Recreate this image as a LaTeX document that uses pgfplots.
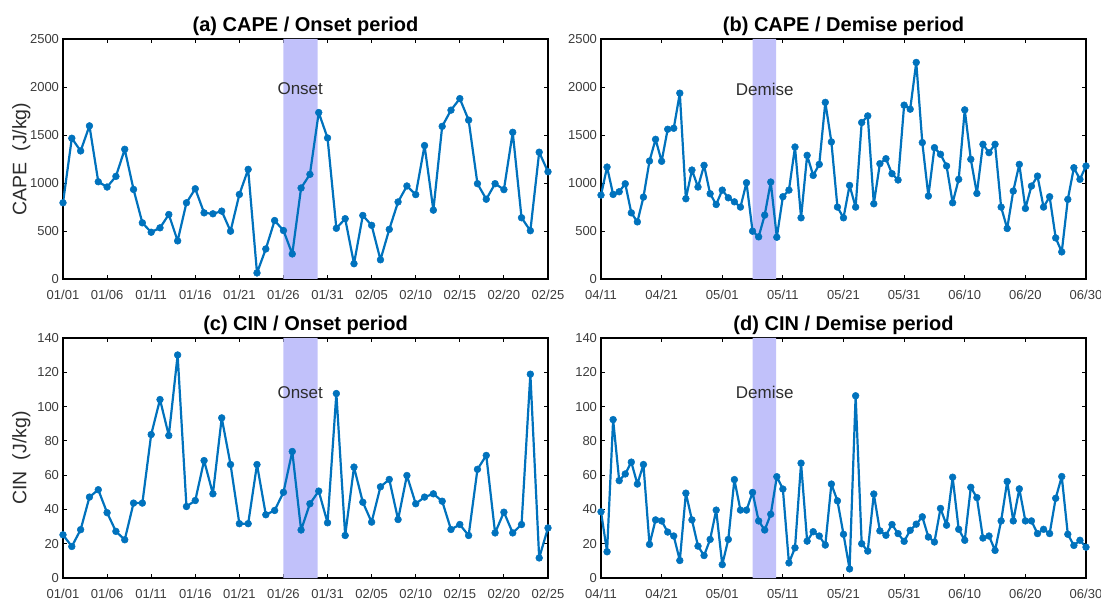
\documentclass[border=0pt]{standalone}
\usepackage{pgfplots}
\pgfplotsset{compat=1.18}
\usepackage{fontspec}
\setmainfont{Liberation Sans}
\definecolor{mblue}{RGB}{0,114,189}
\definecolor{band}{RGB}{193,193,250}
\definecolor{tickgray}{RGB}{60,60,60}
\definecolor{txtgray}{RGB}{45,45,45}
\pgfplotsset{
  panel/.style={
    scale only axis, width=485pt, height=240pt,
    xmin=0, ymin=0,
    axis line style={line width=1.1pt, black},
    tick style={line width=0.9pt, black},
    major tick length=4pt, tick align=inside,
    xtick pos=both, ytick pos=both,
    minor tick num=0,
    clip=true,
    /pgf/number format/1000 sep={},
    /pgf/number format/assume math mode=true,
    scaled ticks=false,
    tick label style={font=\fontsize{13}{15}\selectfont, text=tickgray},
    xticklabel style={yshift=-8pt},
    yticklabel style={xshift=-0.5pt},
    title style={at={(0.5,1)}, anchor=south, yshift=-3pt, inner sep=0pt,
      font=\bfseries\fontsize{20}{22}\selectfont, text=black},
    ylabel style={at={(axis description cs:-0.086,0.5)}, anchor=center,
      font=\fontsize{19.5}{21}\selectfont, text=txtgray},
  },
  dataline/.style={color=mblue, line width=2.2pt, line join=round, mark=*, mark size=3.4pt,
    mark options={fill=mblue, draw=mblue, line width=0.5pt}},
  bandfill/.style={fill=band, draw=none, forget plot},
}
\begin{document}
\begin{tikzpicture}
\path[use as bounding box] (0pt,0pt) rectangle (1101pt,600pt);

% (a)
\begin{axis}[panel, at={(63pt,321pt)}, anchor=south west,
  xmax=55, ymax=2500, ytick={0,500,...,2500},
  xtick={0,5,...,55},
  xticklabels={01/01,01/06,01/11,01/16,01/21,01/26,01/31,02/05,02/10,02/15,02/20,02/25},
  title={(a) CAPE / Onset period}, ylabel={CAPE\ \ (J/kg)}]
\addplot[bandfill] coordinates {(25,0) (28.88,0) (28.88,2500) (25,2500)} \closedcycle;
\addplot[dataline] coordinates {
(0,794)(1,1466)(2,1334)(3,1595)(4,1013)(5,958)(6,1069)(7,1351)(8,933)(9,585)
(10,487)(11,533)(12,672)(13,397)(14,794)(15,940)(16,689)(17,679)(18,707)(19,498)
(20,881)(21,1142)(22,63)(23,313)(24,609)(25,505)(26,261)(27,948)(28,1090)(29,1734)
(30,1469)(31,528)(32,628)(33,159)(34,662)(35,559)(36,200)(37,517)(38,803)(39,969)
(40,879)(41,1390)(42,717)(43,1590)(44,1759)(45,1879)(46,1655)(47,993)(48,831)(49,993)
(50,931)(51,1528)(52,638)(53,503)(54,1321)(55,1117)};
\node[font=\fontsize{17}{19}\selectfont, text=txtgray] at (axis cs:26.9,1980) {Onset};
\end{axis}

% (b)
\begin{axis}[panel, at={(601pt,321pt)}, anchor=south west,
  xmax=80, ymax=2500, ytick={0,500,...,2500},
  xtick={0,10,...,80},
  xticklabels={04/11,04/21,05/01,05/11,05/21,05/31,06/10,06/20,06/30},
  title={(b) CAPE / Demise period}]
\addplot[bandfill] coordinates {(25,0) (28.9,0) (28.9,2500) (25,2500)} \closedcycle;
\addplot[dataline] coordinates {
(0,874)(1,1166)(2,881)(3,909)(4,992)(5,689)(6,595)(7,853)(8,1229)(9,1455)
(10,1226)(11,1560)(12,1570)(13,1936)(14,836)(15,1135)(16,958)(17,1184)(18,888)(19,776)
(20,926)(21,846)(22,804)(23,749)(24,1003)(25,498)(26,439)(27,665)(28,1010)(29,435)
(30,857)(31,926)(32,1375)(33,637)(34,1288)(35,1079)(36,1194)(37,1840)(38,1428)(39,749)
(40,637)(41,975)(42,749)(43,1630)(44,1699)(45,783)(46,1201)(47,1253)(48,1097)(49,1031)
(50,1811)(51,1769)(52,2256)(53,1421)(54,864)(55,1368)(56,1299)(57,1177)(58,794)(59,1038)
(60,1762)(61,1247)(62,891)(63,1403)(64,1316)(65,1403)(66,749)(67,526)(68,916)(69,1194)
(70,735)(71,968)(72,1072)(73,749)(74,857)(75,428)(76,282)(77,829)(78,1159)(79,1038)
(80,1177)};
\node[font=\fontsize{17}{19}\selectfont, text=txtgray] at (axis cs:27,1970) {Demise};
\end{axis}

% (c)
\begin{axis}[panel, at={(63pt,22pt)}, anchor=south west,
  xmax=55, ymax=140, ytick={0,20,...,140},
  xtick={0,5,...,55},
  xticklabels={01/01,01/06,01/11,01/16,01/21,01/26,01/31,02/05,02/10,02/15,02/20,02/25},
  title={(c) CIN / Onset period}, ylabel={CIN\ \ (J/kg)}]
\addplot[bandfill] coordinates {(25,0) (28.88,0) (28.88,140) (25,140)} \closedcycle;
\addplot[dataline] coordinates {
(0,25.2)(1,18.4)(2,28.2)(3,47.2)(4,51.5)(5,38.1)(6,27.2)(7,22.3)(8,43.7)(9,43.7)
(10,83.7)(11,104.1)(12,83.1)(13,130.1)(14,41.7)(15,45.2)(16,68.5)(17,49.1)(18,93.4)(19,66.2)
(20,31.7)(21,31.7)(22,66.2)(23,36.9)(24,39.4)(25,50)(26,73.8)(27,28)(28,43.3)(29,50.7)
(30,32.2)(31,107.6)(32,24.8)(33,64.7)(34,44.2)(35,32.6)(36,53.2)(37,57.5)(38,34.1)(39,59.8)
(40,43.3)(41,47.2)(42,49.1)(43,44.8)(44,28.3)(45,31.2)(46,24.8)(47,63.4)(48,71.5)(49,26.3)
(50,38.4)(51,26.3)(52,31.2)(53,118.9)(54,11.7)(55,29.2)};
\node[font=\fontsize{17}{19}\selectfont, text=txtgray] at (axis cs:26.9,108) {Onset};
\end{axis}

% (d)
\begin{axis}[panel, at={(601pt,22pt)}, anchor=south west,
  xmax=80, ymax=140, ytick={0,20,...,140},
  xtick={0,10,...,80},
  xticklabels={04/11,04/21,05/01,05/11,05/21,05/31,06/10,06/20,06/30},
  title={(d) CIN / Demise period}]
\addplot[bandfill] coordinates {(25,0) (28.9,0) (28.9,140) (25,140)} \closedcycle;
\addplot[dataline] coordinates {
(0,38.6)(1,15.3)(2,92.4)(3,56.8)(4,60.7)(5,67.6)(6,54.8)(7,66.2)(8,19.6)(9,33.9)
(10,33.3)(11,26.8)(12,24.5)(13,10.2)(14,49.5)(15,33.9)(16,18.6)(17,13.1)(18,22.5)(19,39.6)
(20,7.8)(21,22.5)(22,57.4)(23,39.6)(24,39.6)(25,49.9)(26,33.3)(27,28.0)(28,37.2)(29,59.1)
(30,51.9)(31,8.8)(32,17.6)(33,67.0)(34,21.5)(35,27.0)(36,24.5)(37,19.2)(38,54.8)(39,45.0)
(40,25.5)(41,5.3)(42,106.3)(43,20)(44,15.7)(45,49)(46,27.5)(47,24.9)(48,31.2)(49,25.9)
(50,21.4)(51,27.8)(52,31.4)(53,35.7)(54,23.9)(55,21)(56,40.6)(57,30.8)(58,58.8)(59,28.4)
(60,22)(61,52.9)(62,46.9)(63,23.3)(64,24.5)(65,16.1)(66,33.3)(67,56.3)(68,33.3)(69,52)
(70,33.3)(71,33.3)(72,25.9)(73,28.4)(74,25.9)(75,46.5)(76,59.2)(77,25.5)(78,19)(79,22)
(80,18)};
\node[font=\fontsize{17}{19}\selectfont, text=txtgray] at (axis cs:27,108) {Demise};
\end{axis}
\end{tikzpicture}
\end{document}
